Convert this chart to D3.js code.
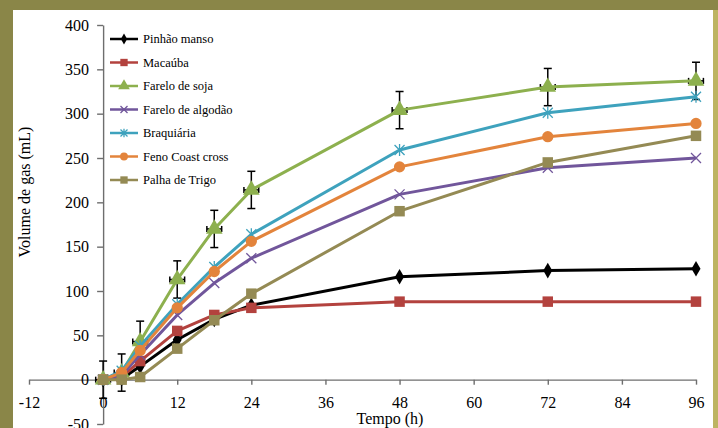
<!DOCTYPE html>
<html>
<head>
<meta charset="utf-8">
<script src="https://cdn.jsdelivr.net/npm/d3@7"></script>
<style>
  body { margin: 0; background: #8a8648; }
  svg { display: block; }
</style>
</head>
<body>
<div id="chart"></div>
<script>
// data
const tempo = [0, 3, 6, 12, 18, 24, 48, 72, 96];
const seriesNames = ["Pinhão manso", "Macaúba", "Farelo de soja", "Farelo de algodão", "Braquiária", "Feno Coast cross", "Palha de Trigo"];
const pinhao   = [0, 1, 15, 45, 68, 84, 116, 123, 125];
const macauba  = [0, 3, 21, 55, 73, 81, 88, 88, 88];
const soja     = [0, 8, 43, 113, 170, 214, 304, 330, 337];
const algodao  = [0, 5, 28, 73, 109, 137, 209, 239, 250];
const braq     = [0, 10, 38, 85, 127, 164, 259, 301, 319];
const feno     = [0, 8, 33, 81, 122, 156, 240, 274, 289];
const palha    = [0, 0, 3, 35, 67, 97, 190, 245, 275];
const sojaErr  = [21, 21, 23, 21, 21, 21, 21, 21, 21];
const xTicks = [-12, 0, 12, 24, 36, 48, 60, 72, 84, 96];
const yTicks = [-50, 0, 50, 100, 150, 200, 250, 300, 350, 400];

const values = [pinhao, macauba, soja, algodao, braq, feno, palha];
const colors = ["#000000", "#b3423e", "#8db04e", "#71569b", "#3ea2bd", "#e3843c", "#948a54"];
const symbols = [d3.symbolDiamond, d3.symbolSquare, d3.symbolTriangle, "x", "star", d3.symbolCircle, d3.symbolSquare];
const sizes = [70, 110, 120, 0, 0, 100, 110];

const width = 718, height = 428;
const font = "'Liberation Serif', 'Times New Roman', serif";

const svg = d3.select("#chart").append("svg")
  .attr("width", width).attr("height", height);

// frame
svg.append("rect").attr("x", 0).attr("y", 0).attr("width", width).attr("height", height).attr("fill", "#8a8648");
svg.append("rect").attr("x", 713).attr("y", 10).attr("width", 5).attr("height", height).attr("fill", "#bdb462");
svg.append("rect").attr("x", 13).attr("y", 10).attr("width", 700).attr("height", height).attr("fill", "#ffffff");

const x = d3.scaleLinear().domain([-12, 96]).range([29, 696]);
const y = d3.scaleLinear().domain([-50, 400]).range([424, 25]);

// axes (plain hyphen for negatives, like the original)
const xAxis = svg.append("g")
  .attr("transform", `translate(0,${y(0)})`)
  .call(d3.axisBottom(x).tickValues(xTicks).tickFormat(d => String(d)).tickSize(5).tickPadding(12).tickSizeOuter(0));
const yAxis = svg.append("g")
  .attr("transform", `translate(${x(0)},0)`)
  .call(d3.axisLeft(y).tickValues(yTicks).tickFormat(d => String(d)).tickSize(6).tickPadding(8).tickSizeOuter(0));
[xAxis, yAxis].forEach(g => {
  g.select(".domain").attr("stroke", "#6e6e6e").attr("stroke-width", 1.4);
  g.selectAll(".tick line").attr("stroke", "#6e6e6e").attr("stroke-width", 1.4);
  g.selectAll("text").style("font-family", font).style("font-size", "16px").attr("fill", "#000");
});

svg.append("text")
  .attr("x", 390).attr("y", 424)
  .attr("text-anchor", "middle")
  .style("font-family", font).style("font-size", "16px")
  .text("Tempo (h)");

svg.append("text")
  .attr("transform", "translate(30,192) rotate(-90)")
  .attr("text-anchor", "middle")
  .style("font-family", font).style("font-size", "16px")
  .text("Volume de gas (mL)");

function drawMarker(g, i, cx, cy, scale) {
  const s = symbols[i];
  if (s === "x" || s === "star") {
    const r = 5 * scale;
    const p = d3.path();
    p.moveTo(cx - r, cy - r); p.lineTo(cx + r, cy + r);
    p.moveTo(cx - r, cy + r); p.lineTo(cx + r, cy - r);
    if (s === "star") { p.moveTo(cx, cy - r * 1.2); p.lineTo(cx, cy + r * 1.2); }
    g.append("path").attr("d", p.toString()).attr("stroke", colors[i]).attr("stroke-width", 1.3).attr("fill", "none");
  } else {
    g.append("path")
      .attr("d", d3.symbol().type(s).size(sizes[i] * scale * scale)())
      .attr("transform", `translate(${cx},${cy})`)
      .attr("fill", colors[i]);
  }
}

const line = d3.line().x((d, j) => x(tempo[j])).y(d => y(d));

// soja error bars (drawn under lines)
const eb = svg.append("g").attr("stroke", "#000").attr("stroke-width", 1.5);
soja.forEach((v, j) => {
  const cx = x(tempo[j]);
  eb.append("line").attr("x1", cx).attr("x2", cx).attr("y1", y(v - sojaErr[j])).attr("y2", y(v + sojaErr[j]));
  eb.append("line").attr("x1", cx - 4).attr("x2", cx + 4).attr("y1", y(v + sojaErr[j])).attr("y2", y(v + sojaErr[j]));
  eb.append("line").attr("x1", cx - 4).attr("x2", cx + 4).attr("y1", y(v - sojaErr[j])).attr("y2", y(v - sojaErr[j]));
  eb.append("line").attr("x1", x(tempo[j] - 1.2)).attr("x2", x(tempo[j] + 1.2)).attr("y1", y(v)).attr("y2", y(v));
  eb.append("line").attr("x1", x(tempo[j] - 1.2)).attr("x2", x(tempo[j] - 1.2)).attr("y1", y(v) - 3).attr("y2", y(v) + 3);
  eb.append("line").attr("x1", x(tempo[j] + 1.2)).attr("x2", x(tempo[j] + 1.2)).attr("y1", y(v) - 3).attr("y2", y(v) + 3);
});

values.forEach((vals, i) => {
  const g = svg.append("g");
  g.append("path").datum(vals).attr("d", line)
    .attr("fill", "none").attr("stroke", colors[i]).attr("stroke-width", 3).attr("stroke-linejoin", "round");
  vals.forEach((v, j) => drawMarker(g, i, x(tempo[j]), y(v), 1));
});

// legend
const legend = svg.append("g");
seriesNames.forEach((name, i) => {
  const ly = 39 + i * 23.5;
  legend.append("line").attr("x1", 110).attr("x2", 138).attr("y1", ly).attr("y2", ly)
    .attr("stroke", colors[i]).attr("stroke-width", 2.5);
  drawMarker(legend, i, 124, ly, 0.7);
  legend.append("text").attr("x", 143).attr("y", ly).attr("dy", "0.35em")
    .style("font-family", font).style("font-size", "12.5px")
    .text(name);
});
</script>
</body>
</html>
